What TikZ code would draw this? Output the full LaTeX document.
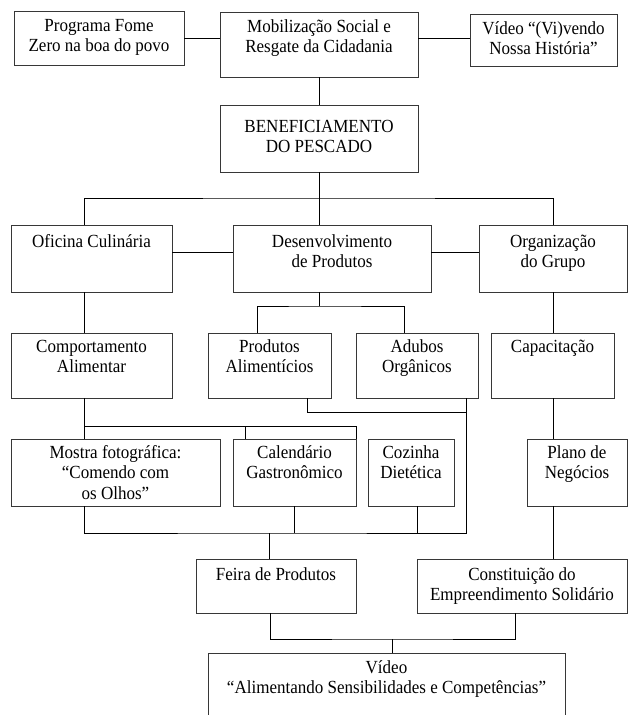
\documentclass[tikz,border=0pt]{standalone}
\usepackage{fontspec}
\setmainfont{Liberation Serif}[FakeStretch=0.92]
\usepackage{xcolor}
\definecolor{boxgray}{RGB}{55,55,55}
\newcommand{\cell}[4][20pt]{\parbox[t][#3][t]{#2}{\centering\rule{0pt}{#1}#4}}
\tikzset{
  box/.style={draw=boxgray,line width=0.9pt,inner sep=0pt,outer sep=0pt,anchor=north west,font=\fontsize{18.5}{20.5}\selectfont},
}
\begin{document}
\begin{tikzpicture}[x=1pt,y=-1pt,
    link/.style={line width=0.8pt},
  ]
    \useasboundingbox (0,0) rectangle (629,715);
    \clip (0,0) rectangle (629,715);

    %────────── TOP ROW ────────────
    \node[box] (prog) at (14,11) {\cell{170pt}{54pt}{Programa Fome\\Zero na boa do povo}};
    \node[box] (mob) at (220,12) {\cell{198pt}{65pt}{Mobilização Social e\\Resgate da Cidadania}};
    \node[box] (vid) at (470,14) {\cell{147pt}{52pt}{Vídeo “(Vi)vendo\\Nossa História”}};
    \draw[link] (prog.east) -- (prog.east -| mob.west);
    \draw[link] (mob.east |- prog.east) -- (vid.west |- prog.east);

    %────────── BENEFICIAMENTO ─────
    \node[box] (benef) at (220,105) {\cell[27pt]{198pt}{67pt}{BENEFICIAMENTO\\DO PESCADO}};
    \draw[link] (mob.south) -- (benef.north);

    %────────── SECOND LEVEL ───────
    \node[box] (ofic) at (11,225) {\cell[22pt]{161pt}{67pt}{Oficina Culinária}};
    \node[box] (desenv) at (233,225) {\cell[22pt]{198pt}{67pt}{Desenvolvimento\\de Produtos}};
    \node[box] (org) at (479,225) {\cell[22pt]{148pt}{67pt}{Organização\\do Grupo}};
    \coordinate (busA) at (319,198);
    \coordinate (colA) at (84,0);
    \coordinate (side) at (0,252);
    \draw[link] (benef.south) -- (busA);
    \draw[link] (ofic.north -| colA) |- (busA) -| (org.north);
    \draw[link] (busA) -- (busA |- desenv.north);
    \draw[link] (ofic.east |- side) -- (desenv.west |- side);
    \draw[link] (desenv.east |- side) -- (org.west |- side);

    %────────── THIRD LEVEL ────────
    \node[box] (comp) at (11,333) {\cell[19pt]{161pt}{65pt}{Comportamento\\Alimentar}};
    \node[box] (prod) at (208,333) {\cell[19pt]{123pt}{65pt}{Produtos\\Alimentícios}};
    \node[box] (adubo) at (356,333) {\cell[19pt]{122pt}{65pt}{Adubos\\Orgânicos}};
    \node[box] (capac) at (491,333) {\cell[19pt]{123pt}{65pt}{Capacitação}};
    \coordinate (busB) at (319,306);
    \draw[link] (ofic.south -| colA) -- (comp.north -| colA);
    \draw[link] (org.south) -- (org.south |- capac.north);
    \draw[link] (desenv.south -| busB) -- (busB);
    \draw[link] ([xshift=-12.5pt]prod.north) |- (busB) -| ([xshift=-13pt]adubo.north);

    %────────── FOURTH LEVEL ───────
    \node[box] (mostra) at (11,439) {\cell[19pt]{209pt}{67pt}{Mostra fotográfica:\\“Comendo com\\os Olhos”}};
    \node[box] (cal) at (233,439) {\cell[19pt]{123pt}{67pt}{Calendário\\Gastronômico}};
    \node[box] (coz) at (368,439) {\cell[19pt]{86pt}{67pt}{Cozinha\\Dietética}};
    \node[box] (plano) at (527,439) {\cell[19pt]{100pt}{67pt}{Plano de\\Negócios}};
    \coordinate (busC) at (84,426);
    \coordinate (busD) at (466,412);
    \draw[link] (comp.south -| colA) -- (mostra.north -| colA);
    \draw[link] (busC) -| ([xshift=-49.5pt]cal.north);
    \draw[link] (busC) -| (cal.north east);
    \draw[link] (capac.south -| org.south) -- (plano.north -| org.south);
    \draw[link] ([xshift=37.5pt]prod.south) |- (busD);

    %────────── FIFTH LEVEL ────────
    \node[box] (feira) at (196,559) {\cell[21pt]{160pt}{54pt}{Feira de Produtos}};
    \node[box] (const) at (417,559) {\cell[21pt]{210pt}{54pt}{Constituição do\\Empreendimento Solidário}};
    \coordinate (busE) at (269,533);
    \draw[link] (mostra.south -| colA) |- (busE) -| ([xshift=49pt]adubo.south);
    \draw[link] (cal.south) -- (cal.south |- busE);
    \draw[link] ([xshift=6pt]coz.south) -- ([xshift=6pt]coz.south |- busE);
    \draw[link] (busE) -- (busE |- feira.north);
    \draw[link] (plano.south -| org.south) -- (const.north -| org.south);

    %────────── VIDEO ──────────────
    \node[box] (video) at (208,653) {\cell{357pt}{80pt}{Vídeo\\“Alimentando Sensibilidades e Competências”}};
    \coordinate (busF) at (392,639);
    \draw[link] ([xshift=-6pt]feira.south) |- (busF) -| ([xshift=-7pt]const.south);
    \draw[link] (busF) -- (busF |- video.north);
  \end{tikzpicture}
\end{document}
